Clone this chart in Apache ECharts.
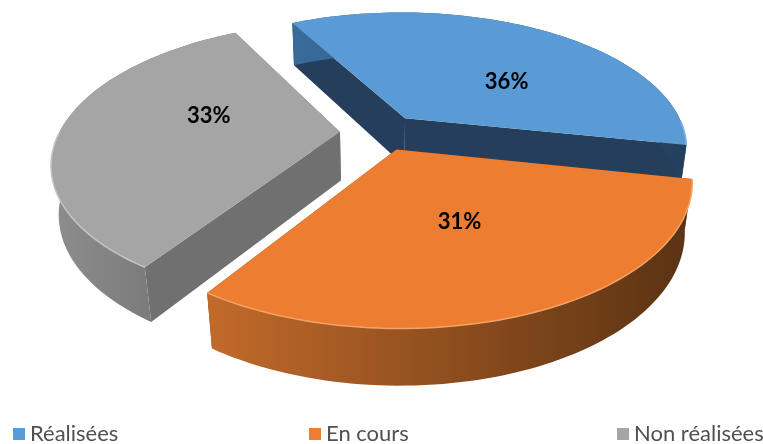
<!DOCTYPE html>
<html>
<head>
<meta charset="utf-8">
<script src="https://cdn.jsdelivr.net/npm/echarts@6/dist/echarts.min.js"></script>
<style>
  html, body { margin: 0; padding: 0; background: #fff; }
  #chart { width: 763px; height: 444px; }
</style>
</head>
<body>
<div id="chart"></div>
<script>
// données du graphique
const categories = ['Réalisées', 'En cours', 'Non réalisées'];
const values = [36, 31, 33];

// couleurs : dessus, flanc clair, flanc sombre, face radiale, liseré
const topColors = ['#5B9BD5', '#ED7D31', '#A5A5A5'];
const sideLight = ['#3A6C9A', '#C26A2A', '#8E8E8E'];
const sideDark = ['#243F5E', '#5A3213', '#6A6A6A'];
const faceColors = ['#243E5C', '#7A4018', '#707070'];
const rimColors = ['#8AB8E4', '#F5A266', '#C4C4C4'];
const explode = [0.14, 0.13, 0.15];
const labelTurn = [-16, 0, -12]; // degrés, rotation de l'étiquette

// vue 3D (perspective simple)
const view = { cx: 382, cy: 133, F: 1180, D: 4.2, tilt: 28.4, h: 0.2, start: 118 };
const sinT = Math.sin(view.tilt * Math.PI / 180);
const cosT = Math.cos(view.tilt * Math.PI / 180);

function proj(u, v, z) {
  const yc = v * sinT + z * cosT;
  const dep = view.D + v * cosT - z * sinT;
  return [view.cx + view.F * u / dep, view.cy - view.F * yc / dep];
}

const total = values.reduce((a, b) => a + b, 0);
let acc = 0;
const slices = values.map(function (v) {
  const a0 = (view.start - acc / total * 360) * Math.PI / 180;
  acc += v;
  const a1 = (view.start - acc / total * 360) * Math.PI / 180;
  return { a0: a0, a1: a1, mid: (a0 + a1) / 2, pct: Math.round(v / total * 100) + '%' };
});

// ordre d'affichage : du plus lointain au plus proche
const order = slices.map((s, i) => i).sort((a, b) => Math.sin(slices[b].mid) - Math.sin(slices[a].mid));

function renderSlice(i) {
  return function (params, api) {
    const s = slices[i];
    const du = explode[i] * Math.cos(s.mid);
    const dv = explode[i] * Math.sin(s.mid);
    const steps = Math.max(8, Math.ceil(Math.abs(s.a0 - s.a1) / (Math.PI / 120)));
    const top = [], bot = [], rim = [];
    for (let k = 0; k <= steps; k++) {
      const t = s.a0 + (s.a1 - s.a0) * k / steps;
      const u = du + Math.cos(t), v = dv + Math.sin(t);
      top.push(proj(u, v, 0));
      bot.push(proj(u, v, -view.h));
      if (Math.sin(t) < 0) rim.push(top[k]);
    }
    const apexT = proj(du, dv, 0);
    const apexB = proj(du, dv, -view.h);
    const children = [];
    [0, steps].forEach(function (k) {
      children.push({
        type: 'polygon', z2: 1,
        shape: { points: [apexT, top[k], bot[k], apexB] },
        style: { fill: faceColors[i] }
      });
    });
    children.push({
      type: 'polygon', z2: 2,
      shape: { points: top.concat(bot.slice().reverse()) },
      style: {
        fill: new echarts.graphic.LinearGradient(0, 0, 1, 0, [
          { offset: 0, color: sideLight[i] },
          { offset: 1, color: sideDark[i] }
        ])
      }
    });
    children.push({
      type: 'polygon', z2: 3,
      shape: { points: [apexT].concat(top) },
      style: { fill: topColors[i] }
    });
    if (rim.length > 1) {
      children.push({
        type: 'polyline', z2: 4,
        shape: { points: rim },
        style: { stroke: rimColors[i], lineWidth: 1.5, fill: null }
      });
    }
    const la = s.mid + labelTurn[i] * Math.PI / 180;
    const lp = proj(du + 0.5 * Math.cos(la), dv + 0.5 * Math.sin(la), 0);
    children.push({
      type: 'text', z2: 10,
      style: {
        text: s.pct, x: lp[0], y: lp[1],
        fill: '#000', font: 'bold 22px Lato',
        align: 'center', verticalAlign: 'middle'
      }
    });
    return { type: 'group', children: children };
  };
}

const chart = echarts.init(document.getElementById('chart'));
const legendStyle = { fontSize: 22, color: '#505050', fontFamily: 'Lato' };
chart.setOption({
  animation: false,
  legend: [
    { data: [categories[0]], left: 8, top: 418, icon: 'rect', itemWidth: 12, itemHeight: 12, textStyle: legendStyle },
    { data: [categories[1]], left: 304, top: 418, icon: 'rect', itemWidth: 12, itemHeight: 12, textStyle: legendStyle },
    { data: [categories[2]], left: 612, top: 418, icon: 'rect', itemWidth: 12, itemHeight: 12, textStyle: legendStyle }
  ],
  series: categories.map(function (name, i) {
    return {
      type: 'custom',
      name: name,
      coordinateSystem: 'none',
      z: 2 + order.indexOf(i),
      itemStyle: { color: topColors[i] },
      data: [values[i]],
      renderItem: renderSlice(i)
    };
  })
});
</script>
</body>
</html>
